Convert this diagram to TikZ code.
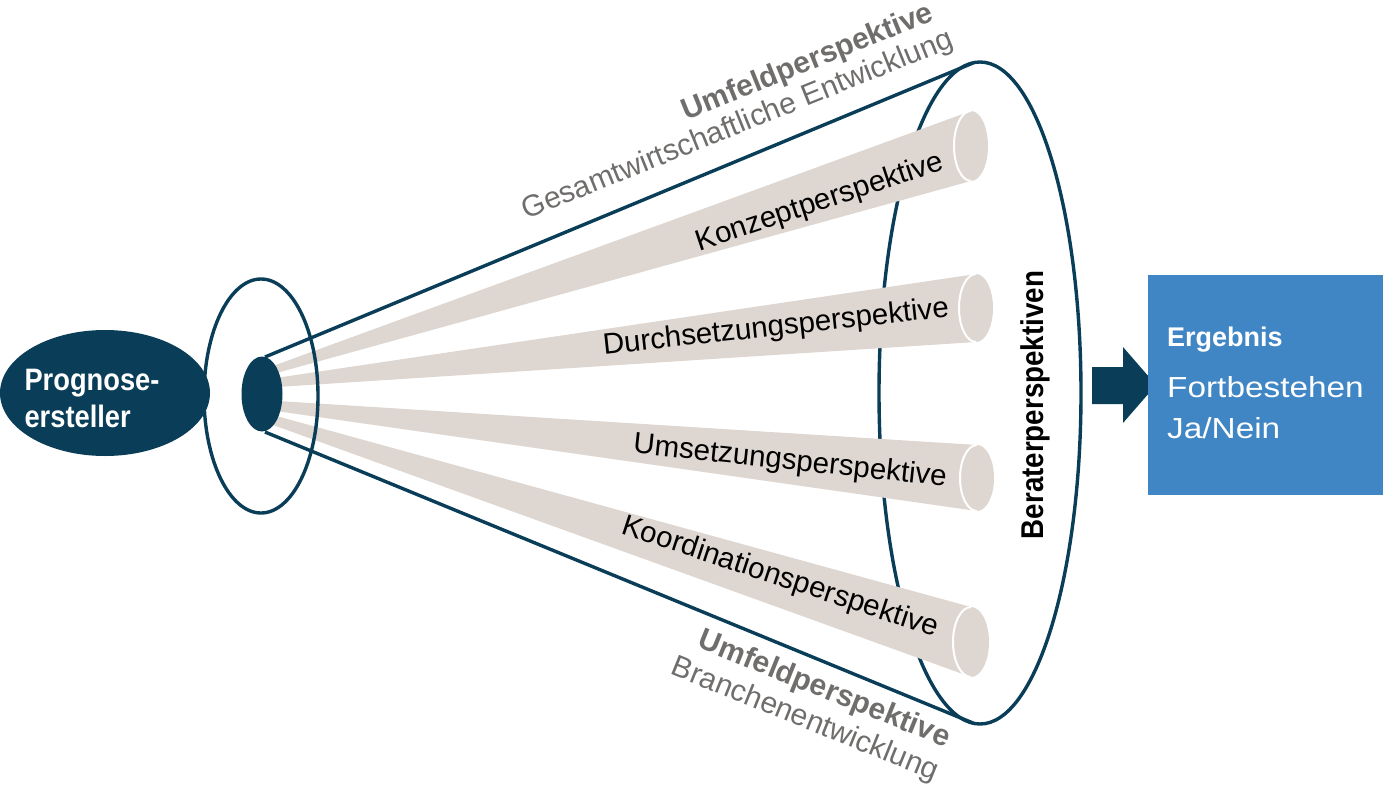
\documentclass[tikz,border=0pt]{standalone}
\usepackage{fontspec}
\setmainfont{Liberation Sans}
\newfontfamily\narrowfont{Liberation Sans}[FakeStretch=0.88]
\newfontfamily\widefont{Liberation Sans}[FakeStretch=1.15]
\usetikzlibrary{shapes.geometric, calc}

\definecolor{petrol}{RGB}{10,62,88}
\definecolor{beamgrey}{RGB}{222,214,209}
\definecolor{labelgrey}{RGB}{112,110,108}
\definecolor{resultblue}{RGB}{64,134,196}

\begin{document}
\begin{tikzpicture}[
    x=1pt, y=-1pt, % pixel grid, y downwards
    outline/.style={draw=petrol, line width=3.4pt}, % dark blue contour lines
    beamlabel/.style={font=\fontsize{29.5}{34}\selectfont, inner sep=0pt},
    envlabel/.style={font=\fontsize{30}{34}\selectfont, text=labelgrey, inner sep=0pt},
    caprim/.style={draw=white, line width=2pt}
]
\useasboundingbox (0,0) rectangle (1384,792);

% Big opening of the cone
\draw[outline] (980,393) ellipse (101 and 331);

% Beams (perspectives) with cylinder caps
\fill[beamgrey] (262,370) -- (971,111) -- (971,181) -- (262,377) -- cycle;
\fill[beamgrey] (971,146) ellipse (17 and 35);
\draw[caprim] (971,181) arc[start angle=90, end angle=270, x radius=17, y radius=35];

\fill[beamgrey] (262,380) -- (976,274) -- (976,342) -- (262,388) -- cycle;
\fill[beamgrey] (976,308) ellipse (17 and 34);
\draw[caprim] (976,342) arc[start angle=90, end angle=270, x radius=17, y radius=34];

\fill[beamgrey] (262,400) -- (977,445) -- (977,511) -- (262,409) -- cycle;
\fill[beamgrey] (977,478) ellipse (17 and 33);
\draw[caprim] (977,511) arc[start angle=90, end angle=270, x radius=17, y radius=33];

\fill[beamgrey] (262,412) -- (971,607) -- (971,677) -- (262,421) -- cycle;
\fill[beamgrey] (971,642) ellipse (18 and 35);
\draw[caprim] (971,677) arc[start angle=90, end angle=270, x radius=18, y radius=35];

% Beam labels
\node[beamlabel, rotate=18.4] (konzept) at (820,203) {Konzeptperspektive};
\node[beamlabel, rotate=6.2] (durchsetzung) at (776,328) {Durchsetzungsperspektive};
\node[beamlabel, rotate=-6.1] (umsetzung) at (790,462) {Umsetzungsperspektive};
\node[beamlabel, rotate=-18.2] (koordination) at (780,578) {Koordinationsperspektive};

% Ring round the source and cone edges
\draw[outline] (261,396) ellipse (57 and 117);
\coordinate (conetop) at (973,63);
\coordinate (conebottom) at (973,723);
\draw[outline] (265,357) -- (conetop);
\draw[outline] (265,432) -- (conebottom);
\fill[petrol] (262,394) ellipse (20.5 and 37.5);

% Environment labels along the cone edges
\node[envlabel, font=\fontsize{30}{34}\selectfont\bfseries, rotate=22] (umfeldtop) at (808,63) {Umfeldperspektive};
\node[envlabel, rotate=22] (gesamt) at (738,126) {Gesamtwirtschaftliche Entwicklung};
\node[envlabel, font=\fontsize{30}{34}\selectfont\bfseries, rotate=-22] (umfeldbottom) at (824,690) {Umfeldperspektive};
\node[envlabel, rotate=-22] (branche) at (805,720) {Branchenentwicklung};

% Forecaster
\node[ellipse, fill=petrol, minimum width=210, minimum height=126, inner sep=0pt] (prognose) at (105,393) {};
\node[align=left, text=white, inner sep=0pt, font=\narrowfont\bfseries\fontsize{31}{37}\selectfont] (prognosetext) at (92,398) {Prognose-\\ersteller};

% Consultant perspectives
\node[rotate=90, inner sep=0pt, font=\narrowfont\bfseries\fontsize{31.5}{36}\selectfont] (berater) at (1035,405) {Beraterperspektiven};

% Result arrow and box
\fill[petrol] (1092,367) -- (1123,367) -- (1123,347) -- (1156,385) -- (1123,423) -- (1123,404) -- (1092,404) -- cycle;
\node[fill=resultblue, minimum width=235, minimum height=220, inner sep=0pt] (ergebnis) at (1265.5,385) {};
\node[anchor=base west, text=white, inner sep=0pt, font=\bfseries\fontsize{27}{32}\selectfont] (ergtitel) at (1167,346) {Ergebnis};
\node[anchor=base west, text=white, inner sep=0pt, font=\widefont\fontsize{29}{34}\selectfont] (ergzeile1) at (1167,397) {Fortbestehen};
\node[anchor=base west, text=white, inner sep=0pt, font=\widefont\fontsize{29}{34}\selectfont] (ergzeile2) at (1167,438) {Ja/Nein};

\end{tikzpicture}
\end{document}
